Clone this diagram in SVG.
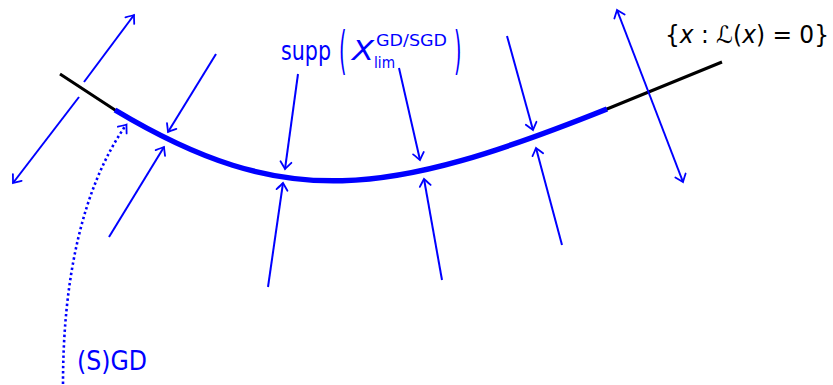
<svg xmlns="http://www.w3.org/2000/svg" width="833" height="385" viewBox="0 0 833 385">
<style>
.ar{fill:none;stroke:#0000ff;stroke-width:2;marker-end:url(#ah)}
.dbl{marker-start:url(#ah)}
.lbl{font-family:"DejaVu Sans",sans-serif;fill:#0000ff}
.mth{font-family:"DejaVu Sans",sans-serif;fill:#000}
</style>
<defs>
<marker id="ah" viewBox="-9 -7 11 14" markerWidth="11" markerHeight="14" refX="0" refY="0" orient="auto-start-reverse" markerUnits="userSpaceOnUse">
<path d="M-7,-5.5 Q-2,-1.5 0,0 Q-2,1.5 -7,5.5" fill="none" stroke="#0000ff" stroke-width="1.8" stroke-linecap="round"/>
</marker>
</defs>
<rect width="833" height="385" fill="#fff"/>
<g id="manifold">
<path d="M60,74 L115,110 C285,212 387,197 607,109 L722,62" fill="none" stroke="#000" stroke-width="3"/>
<path d="M115,110 C285,212 387,197 607,109" fill="none" stroke="#0000ff" stroke-width="5.5"/>
</g>
<g id="connectors">
<line class="ar" x1="79" y1="97" x2="13" y2="183"/>
<line class="ar" x1="84" y1="82" x2="134" y2="15"/>
<line class="ar dbl" x1="617" y1="10" x2="683" y2="182"/>
<line class="ar" x1="216" y1="54" x2="168" y2="132"/>
<line class="ar" x1="109" y1="237" x2="164" y2="147"/>
<line class="ar" x1="298" y1="74" x2="285" y2="169"/>
<line class="ar" x1="268" y1="287" x2="283" y2="183"/>
<line class="ar" x1="399" y1="68" x2="420" y2="160"/>
<line class="ar" x1="442" y1="280" x2="424" y2="179"/>
<line class="ar" x1="507" y1="36" x2="533" y2="130"/>
<line class="ar" x1="562" y1="245" x2="536" y2="148"/>
<path d="M63,384 C63,280 82,188 126,125" fill="none" stroke="#0000ff" stroke-width="2.6" stroke-dasharray="2.4 2.8"/>
<path d="M120,133 L126.5,124.5" fill="none" stroke="#0000ff" stroke-width="0.1" marker-end="url(#ah)"/>
</g>
<g id="label-supp">
<text class="lbl" x="281" y="60" font-size="26" textLength="50" lengthAdjust="spacingAndGlyphs">supp</text>
<text class="lbl" x="0" y="0" font-size="24" transform="translate(339,68) scale(0.8,2.15)">(</text>
<text class="lbl" x="352" y="60" font-size="27" font-style="italic" textLength="22" lengthAdjust="spacingAndGlyphs">X</text>
<text class="lbl" x="376" y="46" font-size="16" textLength="71" lengthAdjust="spacingAndGlyphs">GD/SGD</text>
<text class="lbl" x="374" y="68" font-size="16" textLength="21" lengthAdjust="spacingAndGlyphs">lim</text>
<text class="lbl" x="0" y="0" font-size="24" transform="translate(454,68) scale(0.8,2.15)">)</text>
</g>
<g id="label-sgd">
<text class="lbl" x="77" y="370" font-size="27" textLength="70" lengthAdjust="spacingAndGlyphs">(S)GD</text>
</g>
<g id="label-zeroset">
<text class="mth" x="665" y="43" font-size="24" textLength="164" lengthAdjust="spacingAndGlyphs">{<tspan font-style="italic">x</tspan> : ℒ(<tspan font-style="italic">x</tspan>) = 0}</text>
</g>
</svg>
